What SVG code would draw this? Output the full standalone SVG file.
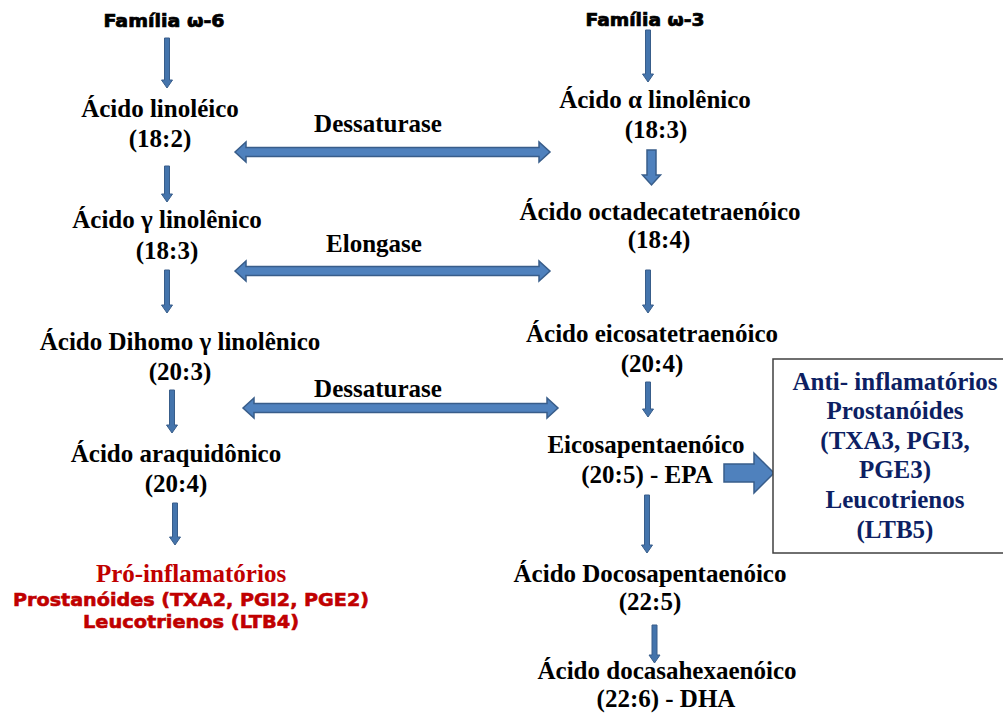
<svg xmlns="http://www.w3.org/2000/svg" width="1003" height="713" viewBox="0 0 1003 713">
<style>
.t{font-family:"Liberation Serif","Times New Roman",serif;font-weight:bold;font-size:25px;fill:#000;text-anchor:middle}
.h{font-family:"DejaVu Sans","Liberation Sans",sans-serif;font-weight:bold;font-size:17px;fill:#000;stroke:#000;stroke-width:0.7;text-anchor:middle}
.r{font-family:"DejaVu Sans","Liberation Sans",sans-serif;font-weight:bold;font-size:18.5px;fill:#C00000;stroke:#C00000;stroke-width:0.6;text-anchor:middle}
.rs{fill:#C00000}
.b{fill:#0D1F63}
.ar{fill:#4474AC;stroke:#385D8A;stroke-width:1;stroke-linejoin:miter}
.big{fill:#4F81BD;stroke:#385D8A;stroke-width:1.5;stroke-linejoin:miter}
</style>
<rect width="1003" height="713" fill="#fff"/>
<g id="connectors">
<polygon class="ar" points="164.5,38 169.5,38 169.5,80 172.5,80 167,88 161.5,80 164.5,80"/>
<polygon class="ar" points="164.5,166 169.5,166 169.5,194 172.5,194 167,202 161.5,194 164.5,194"/>
<polygon class="ar" points="164.5,270 169.5,270 169.5,305 172.5,305 167,313 161.5,305 164.5,305"/>
<polygon class="ar" points="169.5,390 174.5,390 174.5,425 177.5,425 172,433 166.5,425 169.5,425"/>
<polygon class="ar" points="172.5,503 177.5,503 177.5,537 180.5,537 175,545 169.5,537 172.5,537"/>
<polygon class="ar" points="645.5,30 650.5,30 650.5,74 653.5,74 648,82 642.5,74 645.5,74"/>
<polygon class="big" points="647,150 656,150 656,175 660.5,175 651.5,185 642.5,175 647,175"/>
<polygon class="ar" points="645.5,270 650.5,270 650.5,305 653.5,305 648,313 642.5,305 645.5,305"/>
<polygon class="ar" points="645.5,382 650.5,382 650.5,409 653.5,409 648,417 642.5,409 645.5,409"/>
<polygon class="ar" points="644.5,495 649.5,495 649.5,545 652.5,545 647,553 641.5,545 644.5,545"/>
<polygon class="ar" points="652,625 657,625 657,655 660,655 654.5,663 649,655 652,655"/>
<polygon class="big" points="235,152 246,142 246,147.5 539,147.5 539,142 550,152 539,162 539,156.5 246,156.5 246,162"/>
<polygon class="big" points="235,271 246,261 246,266.5 539,266.5 539,261 550,271 539,281 539,275.5 246,275.5 246,281"/>
<polygon class="big" points="243,408 254,398 254,403.5 547,403.5 547,398 558,408 547,418 547,412.5 254,412.5 254,418"/>
<polygon class="big" points="724,464 754,464 754,453 774,473 754,493 754,482 724,482"/>
<text class="t" x="378" y="132">Dessaturase</text>
<text class="t" x="374" y="252">Elongase</text>
<text class="t" x="378" y="397">Dessaturase</text>
</g>
<g id="omega6-header"><text class="h" x="164" y="27" textLength="121" lengthAdjust="spacingAndGlyphs">Família ω-6</text></g>
<g id="linoleico"><text class="t" x="160" y="117">Ácido linoléico</text><text class="t" x="160" y="147">(18:2)</text></g>
<g id="gama-linolenico"><text class="t" x="167" y="228">Ácido γ linolênico</text><text class="t" x="167" y="259">(18:3)</text></g>
<g id="dihomo"><text class="t" x="180" y="350">Ácido Dihomo γ linolênico</text><text class="t" x="180" y="380">(20:3)</text></g>
<g id="araquidonico"><text class="t" x="176" y="462">Ácido araquidônico</text><text class="t" x="176" y="492">(20:4)</text></g>
<g id="pro-inflamatorios">
<text class="t rs" x="191" y="582">Pró-inflamatórios</text>
<text class="r" x="191" y="606" textLength="356" lengthAdjust="spacingAndGlyphs">Prostanóides (TXA2, PGI2, PGE2)</text>
<text class="r" x="191" y="628" textLength="216" lengthAdjust="spacingAndGlyphs">Leucotrienos (LTB4)</text>
</g>
<g id="omega3-header"><text class="h" x="645" y="26" textLength="119" lengthAdjust="spacingAndGlyphs">Família ω-3</text></g>
<g id="alfa-linolenico"><text class="t" x="655" y="108">Ácido α linolênico</text><text class="t" x="656" y="138">(18:3)</text></g>
<g id="octadecatetraenoico"><text class="t" x="660" y="220">Ácido octadecatetraenóico</text><text class="t" x="659" y="248">(18:4)</text></g>
<g id="eicosatetraenoico"><text class="t" x="652" y="342">Ácido eicosatetraenóico</text><text class="t" x="652" y="372">(20:4)</text></g>
<g id="epa"><text class="t" x="646" y="453">Eicosapentaenóico</text><text class="t" x="647" y="483">(20:5) - EPA</text></g>
<g id="docosapentaenoico"><text class="t" x="650" y="582">Ácido Docosapentaenóico</text><text class="t" x="650" y="610">(22:5)</text></g>
<g id="dha"><text class="t" x="667" y="679">Ácido docasahexaenóico</text><text class="t" x="666" y="707">(22:6) - DHA</text></g>
<g id="anti-inflamatorios">
<rect x="773" y="359" width="232" height="194" fill="#fff" stroke="#404040" stroke-width="1.5"/>
<text class="t b" x="895" y="390">Anti- inflamatórios</text>
<text class="t b" x="895" y="419">Prostanóides</text>
<text class="t b" x="895" y="449">(TXA3, PGI3,</text>
<text class="t b" x="895" y="478">PGE3)</text>
<text class="t b" x="895" y="508">Leucotrienos</text>
<text class="t b" x="895" y="538">(LTB5)</text>
</g>
</svg>
